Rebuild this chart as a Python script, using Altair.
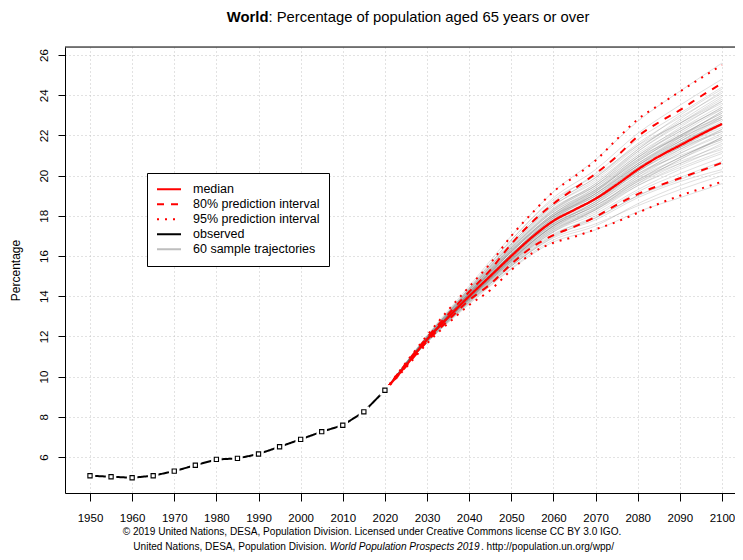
import altair as alt
import pandas as pd

FONT = "Liberation Sans"

# ---------------- data ----------------
obs_years = [1950, 1955, 1960, 1965, 1970, 1975, 1980, 1985, 1990, 1995, 2000, 2005, 2010, 2015, 2020]
obs_pct = [5.07, 5.02, 4.97, 5.07, 5.30, 5.59, 5.88, 5.93, 6.15, 6.51, 6.88, 7.26, 7.58, 8.25, 9.32]

proj_years = [2020, 2025, 2030, 2035, 2040, 2045, 2050, 2055, 2060, 2065, 2070, 2075, 2080, 2085, 2090, 2095, 2100]
median = [9.32, 10.55, 11.85, 12.95, 14.0, 15.0, 16.0, 16.95, 17.75, 18.3, 18.85, 19.55, 20.3, 20.95, 21.5, 22.05, 22.57]
upper80 = [9.32, 10.65, 11.95, 13.1, 14.22, 15.3, 16.6, 17.7, 18.6, 19.35, 20.1, 20.95, 21.95, 22.65, 23.26, 23.95, 24.59]
lower80 = [9.32, 10.5, 11.75, 12.8, 13.8, 14.6, 15.6, 16.45, 17.04, 17.46, 17.95, 18.55, 19.08, 19.5, 19.87, 20.25, 20.64]
upper95 = [9.32, 10.7, 12.05, 13.3, 14.47, 15.63, 17.0, 18.15, 19.2, 19.95, 20.75, 21.8, 22.8, 23.5, 24.18, 24.85, 25.5]
lower95 = [9.32, 10.45, 11.65, 12.65, 13.56, 14.3, 15.3, 16.15, 16.66, 16.96, 17.33, 17.7, 18.15, 18.6, 19.0, 19.35, 19.7]

traj_years = [2020, 2030, 2040, 2050, 2060, 2070, 2080, 2090, 2100]
traj_start = 9.32
trajectories = [
    [11.9, 14.1, 16.2, 18.0, 19.2, 20.8, 22.1, 23.3],
    [11.8, 13.9, 15.8, 17.5, 18.5, 19.8, 20.9, 21.9],
    [12.0, 14.4, 16.8, 18.9, 20.3, 22.1, 23.5, 24.8],
    [11.7, 13.7, 15.5, 16.9, 17.6, 18.5, 19.3, 20.0],
    [11.85, 14.0, 16.1, 17.9, 19.0, 20.6, 21.8, 22.9],
    [11.9, 14.2, 16.4, 18.3, 19.6, 21.2, 22.5, 23.6],
    [11.8, 13.85, 15.7, 17.3, 18.2, 19.5, 20.5, 21.4],
    [11.95, 14.3, 16.6, 18.6, 19.9, 21.6, 22.9, 24.1],
    [11.75, 13.8, 15.6, 17.1, 17.9, 19.0, 19.9, 20.7],
    [11.9, 14.05, 16.0, 17.7, 18.8, 20.2, 21.4, 22.5],
    [11.85, 13.95, 15.9, 17.6, 18.6, 20.0, 21.3, 22.3],
    [12.05, 14.5, 17.0, 19.2, 20.8, 22.7, 24.2, 25.6],
    [11.7, 13.6, 15.35, 16.7, 17.3, 18.2, 18.9, 19.6],
    [11.9, 14.1, 16.3, 18.1, 19.4, 21.0, 22.2, 23.4],
    [11.8, 13.9, 15.85, 17.55, 18.7, 20.1, 21.0, 21.8],
    [11.95, 14.25, 16.5, 18.5, 19.7, 21.3, 22.7, 24.0],
    [11.85, 14.0, 15.9, 17.8, 19.1, 20.5, 21.6, 22.6],
    [11.8, 13.8, 15.7, 17.2, 18.3, 19.6, 20.8, 21.7],
    [11.9, 14.15, 16.3, 18.2, 19.3, 20.7, 22.0, 23.1],
    [11.75, 13.7, 15.5, 17.0, 17.8, 18.9, 19.7, 20.3],
    [12.0, 14.35, 16.7, 18.7, 20.1, 21.8, 23.1, 24.4],
    [11.85, 14.05, 16.1, 17.8, 18.9, 20.4, 21.6, 22.7],
    [11.8, 13.9, 15.8, 17.4, 18.4, 19.9, 21.1, 22.1],
    [11.9, 14.1, 16.2, 18.1, 19.3, 20.9, 21.9, 22.8],
    [11.85, 14.0, 16.0, 17.6, 18.6, 19.9, 20.9, 21.9],
    [11.95, 14.3, 16.5, 18.4, 19.5, 21.0, 22.4, 23.7],
    [11.8, 13.85, 15.75, 17.4, 18.6, 20.2, 21.4, 22.4],
    [11.9, 14.2, 16.4, 18.2, 19.4, 20.9, 22.3, 23.5],
    [11.75, 13.75, 15.6, 17.2, 18.1, 19.3, 20.3, 21.1],
    [11.85, 14.0, 16.05, 17.85, 19.0, 20.5, 21.7, 22.8],
    [12.0, 14.4, 16.8, 18.8, 20.0, 21.5, 22.6, 23.7],
    [11.8, 13.9, 15.8, 17.5, 18.7, 20.3, 21.6, 22.6],
    [11.9, 14.1, 16.1, 17.9, 19.1, 20.6, 21.9, 23.0],
    [11.7, 13.65, 15.4, 16.8, 17.5, 18.6, 19.5, 20.2],
    [11.85, 14.05, 16.1, 17.9, 19.2, 20.9, 22.2, 23.4],
    [11.9, 14.15, 16.3, 18.0, 19.0, 20.4, 21.4, 22.2],
    [11.8, 13.85, 15.8, 17.5, 18.5, 19.8, 20.7, 21.5],
    [11.95, 14.25, 16.45, 18.35, 19.6, 21.3, 22.8, 24.2],
    [11.85, 13.95, 15.9, 17.65, 18.8, 20.2, 21.3, 22.2],
    [11.8, 13.8, 15.65, 17.25, 18.3, 19.7, 20.6, 21.3],
    [11.9, 14.1, 16.2, 18.0, 19.1, 20.5, 21.8, 23.0],
    [11.85, 14.0, 16.0, 17.75, 18.9, 20.4, 21.7, 22.9],
    [12.0, 14.35, 16.6, 18.6, 19.9, 21.5, 23.0, 24.3],
    [11.75, 13.75, 15.55, 17.05, 18.0, 19.2, 20.1, 20.9],
    [11.9, 14.15, 16.25, 18.05, 19.2, 20.6, 21.7, 22.6],
    [11.85, 13.95, 15.95, 17.7, 18.9, 20.5, 21.9, 23.2],
    [11.8, 13.9, 15.85, 17.5, 18.5, 19.7, 20.8, 21.9],
    [11.9, 14.2, 16.35, 18.25, 19.5, 21.1, 22.3, 23.3],
    [11.85, 14.0, 16.05, 17.8, 18.8, 20.1, 21.2, 22.3],
    [11.8, 13.85, 15.75, 17.35, 18.3, 19.5, 20.4, 21.2],
    [11.95, 14.3, 16.6, 18.5, 19.8, 21.4, 22.6, 23.8],
    [11.85, 14.05, 16.1, 17.95, 19.1, 20.7, 22.0, 23.1],
    [11.75, 13.7, 15.5, 16.95, 17.9, 19.0, 19.8, 20.6],
    [11.9, 14.1, 16.2, 18.0, 19.3, 20.8, 22.0, 22.9],
    [11.85, 13.95, 15.9, 17.6, 18.7, 20.0, 21.1, 22.0],
    [11.9, 14.2, 16.4, 18.3, 19.5, 21.2, 22.6, 23.9],
    [11.8, 13.9, 15.85, 17.45, 18.4, 19.6, 20.6, 21.6],
    [11.85, 14.0, 16.0, 17.7, 18.85, 20.35, 21.55, 22.6],
    [11.9, 14.15, 16.25, 18.1, 19.25, 20.75, 21.95, 23.2],
    [11.8, 13.85, 15.7, 17.3, 18.35, 19.75, 20.9, 21.8],
]

series_names = ["median", "80% prediction interval", "95% prediction interval",
                "observed", "60 sample trajectories"]
series_colors = ["#ff0000", "#ff0000", "#ff0000", "#000000", "#bebebe"]
series_dashes = [[1, 0], [7, 7], [2, 6], [1, 0], [1, 0]]

x_ticks = list(range(1950, 2101, 10))
y_ticks = list(range(6, 27, 2))

title_bold = "World"
title_rest = ": Percentage of population aged 65 years or over"
credit_1 = "\u00a9 2019 United Nations, DESA, Population Division. Licensed under Creative Commons license CC BY 3.0 IGO."
credit_2a = "United Nations, DESA, Population Division. "
credit_2b = "World Population Prospects 2019"
credit_2c = ". http://population.un.org/wpp/"

# ---------------- tables ----------------
obs_df = pd.DataFrame({"year": obs_years, "value": obs_pct, "series": "observed", "band": "obs"})

pi_rows = []
for band, ser, vals in [("u95", series_names[2], upper95), ("l95", series_names[2], lower95),
                        ("u80", series_names[1], upper80), ("l80", series_names[1], lower80)]:
    for yv, v in zip(proj_years, vals):
        pi_rows.append({"year": yv, "value": v, "series": ser, "band": band})
pi_df = pd.DataFrame(pi_rows)
med_df = pd.DataFrame({"year": proj_years, "value": median, "series": "median", "band": "med"})

tr_rows = []
for i, tr in enumerate(trajectories):
    for yv, v in zip(traj_years, [traj_start] + tr):
        tr_rows.append({"year": yv, "value": v, "traj": i})
tr_df = pd.DataFrame(tr_rows)

W, H = 670, 446
PX_PER_YEAR = 4.213
X0 = 1950 - 25 / PX_PER_YEAR

xscale = alt.Scale(domain=[X0, X0 + W / PX_PER_YEAR], nice=False, zero=False)
yscale = alt.Scale(domain=[4.21, 26.4], nice=False, zero=False)
xaxis = alt.Axis(values=x_ticks, format="d", title=None, grid=True, gridColor="#c4c4c4",
                 gridDash=[1, 3], gridWidth=1, domainColor="black", tickColor="black",
                 tickSize=8, labelPadding=11, labelFont=FONT, labelFontSize=11.5,
                 labelColor="black", labelFlush=False)
yaxis = alt.Axis(values=y_ticks, title="Percentage", grid=True, gridColor="#c4c4c4",
                 gridDash=[1, 3], gridWidth=1, domainColor="black", tickColor="black",
                 tickSize=7, labelPadding=11, labelAngle=270, labelAlign="center",
                 labelBaseline="alphabetic", labelFont=FONT, labelFontSize=11.5,
                 labelColor="black", labelFlush=False, titleFont=FONT, titleFontSize=12,
                 titleFontWeight="normal", titleColor="black", titleAngle=270,
                 titleX=-50, titleY=H / 2, titleAlign="center", titleBaseline="middle")

X = alt.X("year:Q", scale=xscale, axis=xaxis)
Y = alt.Y("value:Q", scale=yscale, axis=yaxis)

legend = alt.Legend(title=None, orient="none", legendX=82, legendY=126, direction="vertical",
                    fillColor="white", strokeColor="black", padding=9, symbolType="stroke",
                    symbolSize=576, symbolStrokeWidth=2, symbolOpacity=1, labelFont=FONT,
                    labelFontSize=12.5, labelColor="black", labelOffset=11, rowPadding=0,
                    clipHeight=14.5, labelLimit=300)
C = alt.Color("series:N", scale=alt.Scale(domain=series_names, range=series_colors), legend=legend)
D = alt.StrokeDash("series:N", scale=alt.Scale(domain=series_names, range=series_dashes), legend=legend)

samples = alt.Chart(tr_df).mark_line(strokeWidth=1, opacity=0.22, interpolate="monotone",
                                     color="#6f6f6f").encode(x=X, y=Y, detail="traj:N")

observed = alt.Chart(obs_df).mark_line(strokeWidth=2).encode(x=X, y=Y, color=C, strokeDash=D)

pis = alt.Chart(pi_df).mark_line(strokeWidth=2, interpolate="monotone").encode(
    x=X, y=Y, color=C, strokeDash=D, detail="band:N")

med = alt.Chart(med_df).mark_line(strokeWidth=2.3, interpolate="monotone").encode(
    x=X, y=Y, color=C, strokeDash=D)

gap_pts = alt.Chart(obs_df).mark_point(shape="square", filled=True, color="white", opacity=1,
                                       size=110).encode(x=X, y=Y)
obs_pts = alt.Chart(obs_df).mark_point(shape="square", filled=False, color="black", opacity=1,
                                       size=18, strokeWidth=1.1).encode(x=X, y=Y)

top_rule = alt.Chart(pd.DataFrame({"a": [0]})).mark_rule(color="black", strokeWidth=1).encode(
    x=alt.value(0), x2=alt.value(W), y=alt.value(0))

def txt(s, x, y, size, align, weight="normal", style="normal"):
    return alt.Chart(pd.DataFrame({"t": [s]})).mark_text(
        font=FONT, fontSize=size, fontWeight=weight, fontStyle=style, align=align,
        baseline="middle", color="black").encode(x=alt.value(x), y=alt.value(y), text="t:N")

t1 = txt(title_bold, 203.5, -29, 14.8, "right", weight="bold")
t2 = txt(title_rest, 203.5, -29, 14.8, "left")
c1 = txt(credit_1, 307, 485, 10.1, "center")
c2a = txt(credit_2a, 68.3, 500, 10.1, "left")
c2b = txt(credit_2b, 264.7, 500, 10.1, "left", style="italic")
c2c = txt(credit_2c, 416.0, 500, 10.1, "left")

chart = alt.layer(samples, observed, pis, med, gap_pts, obs_pts, top_rule,
                  t1, t2, c1, c2a, c2b, c2c).properties(
    width=W, height=H,
    padding={"left": 57, "top": 39, "right": 0, "bottom": 59},
    autosize=alt.AutoSizeParams(type="none"),
).configure_view(stroke="transparent").configure(background="white")

chart.save("out.html", embed_options={"renderer": "svg", "actions": False})
